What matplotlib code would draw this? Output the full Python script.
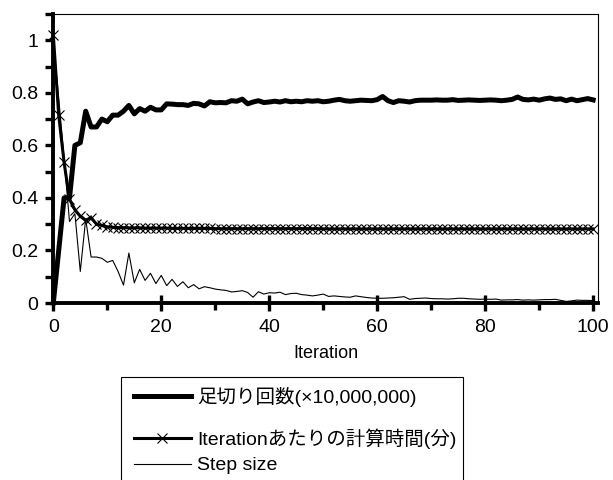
import matplotlib
matplotlib.use("Agg")
import matplotlib.pyplot as plt
from matplotlib.lines import Line2D
from matplotlib.patches import Rectangle
from matplotlib.ticker import MultipleLocator

plt.rcParams['font.family'] = ['Liberation Sans', 'Noto Sans CJK JP']

# data
iteration = list(range(101))

cut_count = [
    0.00, 0.20, 0.40, 0.40, 0.60, 0.61, 0.73, 0.67, 0.67, 0.70,
    0.69, 0.715, 0.715, 0.73, 0.752, 0.72, 0.74, 0.73, 0.745, 0.735,
    0.735, 0.758, 0.757, 0.755, 0.755, 0.752, 0.76, 0.758, 0.75, 0.766,
    0.762, 0.763, 0.762, 0.77, 0.768, 0.776, 0.758, 0.765, 0.77, 0.763,
    0.765, 0.768, 0.765, 0.77, 0.766, 0.768, 0.766, 0.77, 0.768, 0.77,
    0.766, 0.768, 0.772, 0.775, 0.77, 0.768, 0.77, 0.772, 0.771, 0.77,
    0.774, 0.786, 0.77, 0.763, 0.77, 0.768, 0.765, 0.77, 0.772, 0.772,
    0.772, 0.773, 0.772, 0.772, 0.774, 0.771, 0.772, 0.773, 0.772, 0.771,
    0.772, 0.773, 0.772, 0.770, 0.772, 0.775, 0.784, 0.775, 0.773, 0.776,
    0.772, 0.777, 0.780, 0.775, 0.777, 0.770, 0.776, 0.770, 0.774, 0.778,
    0.773,
]

iter_time = [
    1.02, 0.715, 0.535, 0.395, 0.355, 0.33, 0.315, 0.325, 0.30, 0.295,
    0.29, 0.288, 0.287, 0.287, 0.286, 0.286, 0.286, 0.285, 0.285, 0.285,
    0.285, 0.285, 0.284, 0.284, 0.284, 0.284, 0.284, 0.284, 0.284, 0.284,
    0.283, 0.283, 0.283, 0.283, 0.283, 0.283, 0.283, 0.283, 0.283, 0.283,
    0.283, 0.283, 0.283, 0.283, 0.283, 0.283, 0.283, 0.283, 0.283, 0.283,
    0.282, 0.282, 0.282, 0.282, 0.282, 0.282, 0.282, 0.282, 0.282, 0.282,
    0.282, 0.282, 0.282, 0.282, 0.282, 0.282, 0.282, 0.282, 0.282, 0.282,
    0.282, 0.282, 0.282, 0.282, 0.282, 0.282, 0.282, 0.282, 0.282, 0.282,
    0.282, 0.282, 0.282, 0.282, 0.282, 0.282, 0.282, 0.282, 0.282, 0.282,
    0.282, 0.282, 0.282, 0.282, 0.282, 0.282, 0.282, 0.282, 0.282, 0.282,
    0.282,
]

step_size = [
    1.00, 0.78, 0.55, 0.31, 0.34, 0.12, 0.32, 0.175, 0.175, 0.17,
    0.155, 0.162, 0.12, 0.068, 0.19, 0.077, 0.128, 0.086, 0.113, 0.074,
    0.105, 0.066, 0.09, 0.063, 0.081, 0.058, 0.07, 0.054, 0.062, 0.058,
    0.053, 0.05, 0.048, 0.042, 0.044, 0.047, 0.04, 0.022, 0.043, 0.034,
    0.039, 0.038, 0.041, 0.032, 0.036, 0.037, 0.032, 0.03, 0.027, 0.03,
    0.034, 0.025, 0.027, 0.025, 0.023, 0.022, 0.027, 0.024, 0.021, 0.019,
    0.018, 0.018, 0.019, 0.02, 0.022, 0.024, 0.014, 0.017, 0.018, 0.019,
    0.017, 0.016, 0.016, 0.015, 0.016, 0.018, 0.018, 0.016, 0.015, 0.014,
    0.015, 0.014, 0.015, 0.011, 0.012, 0.012, 0.013, 0.011, 0.012, 0.011,
    0.012, 0.013, 0.013, 0.014, 0.01, 0.006, 0.008, 0.011, 0.01, 0.01,
    0.009,
]

labels = ['足切り回数(×10,000,000)', 'Iterationあたりの計算時間(分)', 'Step size']

W, H = 613, 480
fig = plt.figure(figsize=(W / 100, H / 100), dpi=100)
ax = fig.add_axes([53.3 / W, 1 - 303 / H, (598 - 53.3) / W, (303 - 14) / H])

styles = [
    dict(color='black', lw=3.6),
    dict(color='black', lw=2.2, marker='x', ms=7, mew=0.8),
    dict(color='black', lw=0.8),
]

ax.plot(iteration, step_size, clip_on=False, **styles[2])
ax.plot(iteration, iter_time, clip_on=False, **styles[1])
ax.plot(iteration, cut_count, clip_on=False, solid_joinstyle='round', **styles[0])

ax.set_xlim(0, 100.9)
ax.set_ylim(0, 1.1)
ax.xaxis.set_major_locator(MultipleLocator(20))
ax.xaxis.set_minor_locator(MultipleLocator(10))
ax.yaxis.set_major_locator(MultipleLocator(0.2))
ax.yaxis.set_minor_locator(MultipleLocator(0.1))
ax.yaxis.set_major_formatter(plt.FuncFormatter(lambda v, p: f'{v:g}'))

for s in ['left', 'bottom']:
    ax.spines[s].set_linewidth(2.8)
for s in ['top', 'right']:
    ax.spines[s].set_linewidth(0.8)

ax.tick_params(axis='x', which='major', direction='inout', length=11.5, width=2.4,
               labelsize=14, pad=6)
ax.tick_params(axis='x', which='minor', direction='out', length=5, width=2.4)
ax.tick_params(axis='y', which='both', direction='out', length=5.5, width=2.4,
               labelsize=14, pad=5.5)

ax.set_xlabel('Iteration', fontsize=13, labelpad=6)

# legend box drawn in pixel positions (rows are unevenly spaced in the original)
def fx(px):
    return px / W

def fy(py):
    return 1 - py / H

fig.add_artist(Rectangle((fx(120.7), fy(486)), fx(463) - fx(120.7), fy(377.3) - fy(486),
                         transform=fig.transFigure, fill=False, lw=0.8, ec='black'))
rows = [396, 438, 464]
for st, lab, ry in zip(styles, labels, rows):
    fig.add_artist(Line2D([fx(134), fx(191)], [fy(ry), fy(ry)], transform=fig.transFigure,
                          color=st['color'], lw=st['lw']))
    if 'marker' in st:
        fig.add_artist(Line2D([fx(162)], [fy(ry)], transform=fig.transFigure, ls='none',
                              color='black', marker='x', ms=st['ms'], mew=st['mew']))
    fig.text(fx(197), fy(ry + 1), lab, fontsize=14, va='center', ha='left')

fig.savefig('out.png', dpi=100)
